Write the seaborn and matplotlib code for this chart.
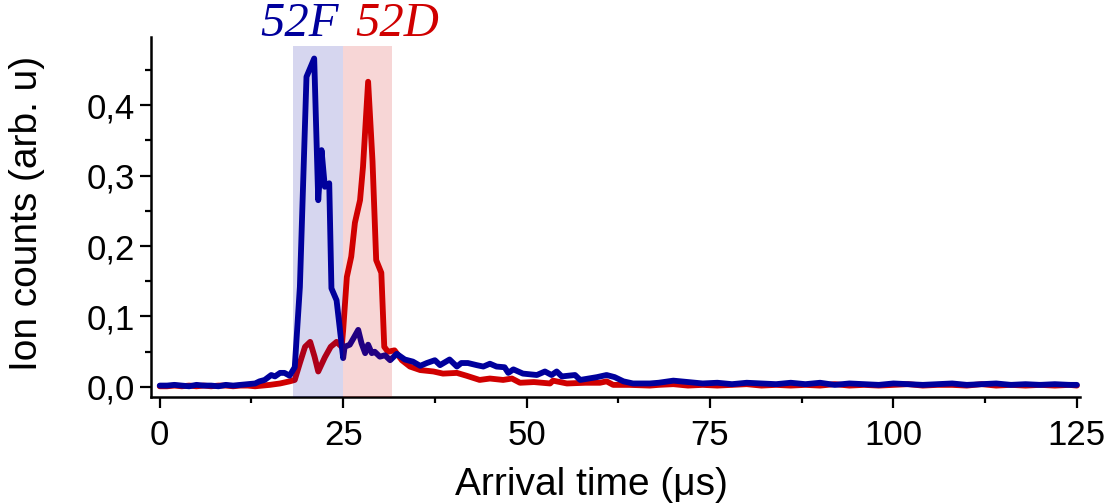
import numpy as np
import pandas as pd
import matplotlib
matplotlib.use("Agg")
import matplotlib.pyplot as plt
import matplotlib.transforms as mtransforms
import seaborn as sns

# arrival times (us) and ion counts
t_52f = [0, 1, 2, 3, 4, 5, 6, 7, 8, 9, 10, 11, 12, 13, 13.6, 14.3, 15.2, 15.7, 16.4, 17.0, 17.7,
         18.4, 19.1, 20.0, 21.05, 21.6, 22.05, 22.5, 23.1, 23.4, 24.1, 25.0, 25.2, 25.9, 26.4,
         27.05, 27.5, 28.0, 28.4, 28.9, 29.3, 30.0, 30.7, 31.4, 32.3, 33.4, 34.5, 35.5, 36.4,
         37.5, 38.2, 39.5, 40.5, 41.1, 42.0, 43.2, 44.1, 45.0, 45.9, 47.0, 47.5, 48.2, 49.5,
         51.4, 52.5, 53.4, 54.1, 54.8, 56.6, 57.3, 59.6, 60.9, 62.0, 63.2, 64.5, 66.8,
         68, 70, 72, 74, 76, 78, 80, 82, 84, 86, 88, 90, 92, 94, 96, 98, 100, 102, 104, 106,
         108, 110, 112, 114, 116, 118, 120, 122, 124, 125]
ion_52f = [0.002, 0.002, 0.003, 0.002, 0.001, 0.003, 0.002, 0.002, 0.001, 0.003, 0.002, 0.003,
           0.004, 0.005, 0.008, 0.010, 0.017, 0.015, 0.020, 0.020, 0.016,
           0.028, 0.142, 0.440, 0.466, 0.265, 0.336, 0.284, 0.289, 0.140, 0.123, 0.041, 0.057,
           0.060, 0.069, 0.081, 0.062, 0.048, 0.060, 0.048, 0.050, 0.043, 0.045, 0.038, 0.047,
           0.039, 0.036, 0.030, 0.034, 0.038, 0.031, 0.039, 0.029, 0.034, 0.034, 0.031, 0.029,
           0.033, 0.029, 0.028, 0.020, 0.025, 0.019, 0.017, 0.022, 0.017, 0.022, 0.015, 0.017,
           0.010, 0.014, 0.017, 0.014, 0.008, 0.005, 0.005,
           0.006, 0.009, 0.007, 0.005, 0.006, 0.004, 0.006, 0.005, 0.004, 0.006, 0.004, 0.006,
           0.003, 0.005, 0.004, 0.003, 0.005, 0.004, 0.003, 0.004, 0.005, 0.003, 0.004, 0.005,
           0.003, 0.004, 0.003, 0.004, 0.003, 0.003]

t_52d = [0, 1, 2, 3, 4, 5, 6, 7, 8, 9, 10, 11, 12, 13, 14, 15, 16.4, 17.7, 18.4, 19.1, 19.8,
         20.5, 21.1, 21.6, 22.5, 23.3, 24.1, 24.8, 25.0, 25.5, 26.1, 26.6, 27.3, 27.7, 28.4,
         29.0, 29.5, 30.2, 30.6, 31.1, 32.0, 33.0, 34.1, 35.5, 37.3, 38.6, 40.5, 41.8, 43.6,
         45.0, 46.8, 48.0, 49.1, 51.0, 53.2, 53.6, 55.5, 58.0, 60.0, 60.9, 61.8, 64.0, 66.8,
         68, 70, 72, 74, 76, 78, 80, 82, 84, 86, 88, 90, 92, 94, 96, 98, 100, 102, 104, 106,
         108, 110, 112, 114, 116, 118, 120, 122, 124, 125]
ion_52d = [0.001, 0.001, 0.002, 0.001, 0.002, 0.001, 0.002, 0.001, 0.002, 0.002, 0.001, 0.002,
           0.002, 0.001, 0.002, 0.003, 0.005, 0.008, 0.010, 0.034, 0.057,
           0.064, 0.043, 0.022, 0.042, 0.057, 0.064, 0.057, 0.081, 0.156, 0.185, 0.233, 0.265,
           0.312, 0.433, 0.320, 0.180, 0.162, 0.057, 0.050, 0.052, 0.038, 0.029, 0.024, 0.022,
           0.019, 0.020, 0.016, 0.010, 0.012, 0.010, 0.012, 0.006, 0.007, 0.005, 0.009, 0.005,
           0.006, 0.006, 0.008, 0.003, 0.003, 0.002,
           0.003, 0.004, 0.002, 0.003, 0.002, 0.003, 0.004, 0.002, 0.003, 0.002, 0.003, 0.002,
           0.004, 0.002, 0.003, 0.002, 0.003, 0.004, 0.002, 0.003, 0.003, 0.002, 0.004, 0.002,
           0.003, 0.002, 0.003, 0.002, 0.003, 0.002]

samples = ["52D", "52F"]
sample_colors = {"52F": "#00009c", "52D": "#d00000"}
span_ranges = {"52F": (18.1, 25.0), "52D": (25.0, 31.7)}
span_top = 0.484

x_ticks = [0, 25, 50, 75, 100, 125]
y_ticks = [0.0, 0.1, 0.2, 0.3, 0.4]
y_tick_labels = ["0,0", "0,1", "0,2", "0,3", "0,4"]

df = pd.concat([
    pd.DataFrame({"Arrival time": t_52d, "Ion counts": ion_52d, "Sample": "52D"}),
    pd.DataFrame({"Arrival time": t_52f, "Ion counts": ion_52f, "Sample": "52F"}),
])

sns.set_style("ticks")
plt.rcParams["font.family"] = ["Liberation Sans", "DejaVu Sans"]
plt.rcParams["text.color"] = "black"
plt.rcParams["axes.labelcolor"] = "black"

fig = plt.figure(figsize=(11.05, 5.04), dpi=100)
ax = fig.add_axes([0.1366, 0.2123, 0.8406, 0.7143])

sns.lineplot(data=df, x="Arrival time", y="Ion counts", hue="Sample", hue_order=samples,
             palette=sample_colors, estimator=None, errorbar=None, sort=False,
             linewidth=4.2, legend=False, ax=ax, zorder=2)

ax.set_xlim(-1.2, 125.4)
ax.set_ylim(-0.0142, 0.4965)

# shaded windows go over the traces, like in the original
for s in ["52F", "52D"]:
    x0, x1 = span_ranges[s]
    ax.fill_between([x0, x1], -0.0142, span_top, color=sample_colors[s], alpha=0.16,
                    linewidth=0, zorder=3)

trans = mtransforms.blended_transform_factory(ax.transData, ax.transAxes)
ax.text(19.0, 1.003, "52F", transform=trans, ha="center", va="baseline",
        fontsize=35, family="Liberation Serif", style="italic", color=sample_colors["52F"])
ax.text(32.3, 1.003, "52D", transform=trans, ha="center", va="baseline",
        fontsize=35, family="Liberation Serif", style="italic", color=sample_colors["52D"])

ax.set_xticks(x_ticks)
ax.set_xticks(np.arange(0, 126, 12.5), minor=True)
ax.set_yticks(y_ticks)
ax.set_yticklabels(y_tick_labels)
ax.set_yticks(np.arange(0.05, 0.5, 0.1), minor=True)

ax.tick_params(axis="both", which="major", direction="out", length=8, width=1.6,
               labelsize=25, color="black", labelcolor="black")
ax.tick_params(axis="both", which="minor", direction="out", length=4.5, width=1.6, color="black")
ax.tick_params(axis="x", which="major", pad=8)

for side in ["left", "bottom"]:
    ax.spines[side].set_linewidth(1.8)
    ax.spines[side].set_color("black")
sns.despine(ax=ax)

ax.set_xlabel("Arrival time (μs)", fontsize=28)
ax.set_ylabel("Ion counts (arb. u)", fontsize=28)
ax.xaxis.set_label_coords(0.474, -0.195)
ax.yaxis.set_label_coords(-0.114, 0.51)

fig.savefig("out.png", dpi=100)
